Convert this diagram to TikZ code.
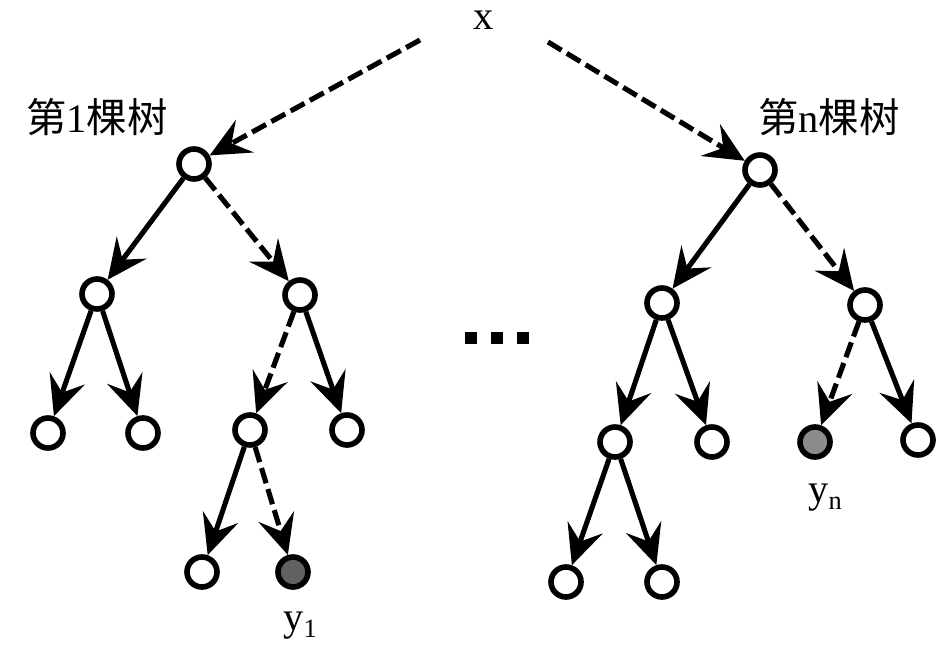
\documentclass[tikz,border=0pt]{standalone}
\usepackage{fontspec}
\setmainfont{Liberation Serif}
\newfontfamily\cjk{Noto Sans CJK SC}
\usetikzlibrary{arrows.meta}

\begin{document}
\begin{tikzpicture}[x=0.02cm, y=-0.02cm,
    vtx/.style={circle, draw, line width=3.2pt, minimum size=0.6cm, inner sep=0pt, fill=white},
    hit/.style={vtx, fill=#1},
    arr/.style={line width=2.9pt, -{Stealth[length=8mm, width=7.4mm, inset=3mm]}},
    dsh/.style={arr, dash pattern=on 9pt off 3.5pt},
    lbl/.style={inner sep=0pt, font=\fontsize{23}{26}\selectfont}]
      \useasboundingbox (0, 0) rectangle (947, 652);
      \node[lbl] (x) at (484, 20) {x};
      \coordinate (xl) at (420, 40);
      \coordinate (xr) at (548, 42);
      \node[lbl] (t1) at (97, 117) {{\cjk 第}1{\cjk 棵树}};
      \node[lbl] (tn) at (829, 117) {{\cjk 第}n{\cjk 棵树}};
      \node[vtx] (a) at (194, 164) {};
      \node[vtx] (a1) at (97, 294) {};
      \node[vtx] (a2) at (300, 295) {};
      \node[vtx] (a11) at (48, 433) {};
      \node[vtx] (a12) at (143, 433) {};
      \node[vtx] (a21) at (250, 430) {};
      \node[vtx] (a22) at (347, 430) {};
      \node[vtx] (a211) at (202, 572) {};
      \node[hit=black!62] (a212) at (293, 572) {};
      \node[lbl] (y1) at (300, 626) {y\raisebox{-0.35ex}{\fontsize{15}{15}\selectfont 1}};
      \node[vtx] (b) at (760, 170) {};
      \node[vtx] (b1) at (662, 303) {};
      \node[vtx] (b2) at (865, 305) {};
      \node[vtx] (b11) at (615, 442) {};
      \node[vtx] (b12) at (712, 442) {};
      \node[hit=black!45] (b21) at (815, 442) {};
      \node[vtx] (b22) at (918, 440) {};
      \node[vtx] (b111) at (566, 582) {};
      \node[vtx] (b112) at (662, 582) {};
      \node[lbl] (yn) at (825, 498) {y\raisebox{-0.35ex}{\fontsize{15}{15}\selectfont n}};
      \foreach \i in {471, 497, 523}
        \node[fill, inner sep=0pt, minimum size=0.24cm] at (\i, 338) {};
      \path[dsh] (xl) edge (a);
      \path[dsh] (xr) edge (b);
      \path[arr] (a) edge (a1) (a1) edge (a11) (a1) edge (a12)
        (a2) edge (a22) (a21) edge (a211);
      \path[dsh] (a) edge (a2) (a2) edge (a21) (a21) edge (a212);
      \path[arr] (b) edge (b1) (b1) edge (b11) (b1) edge (b12)
        (b2) edge (b22) (b11) edge (b111) (b11) edge (b112);
      \path[dsh] (b) edge (b2) (b2) edge (b21);
    \end{tikzpicture}
\end{document}
